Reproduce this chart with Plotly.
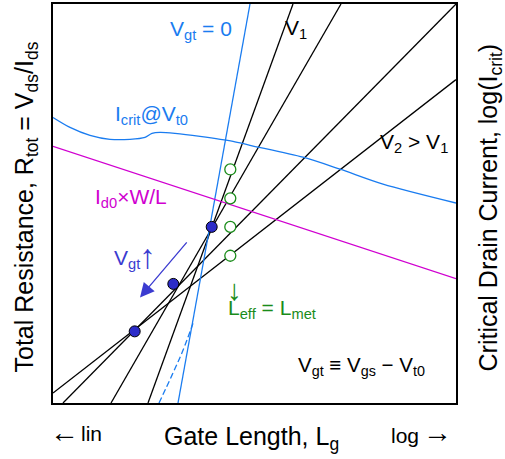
import plotly.graph_objects as go

# Schematic coordinates (arbitrary units)
# Black R_tot vs L lines for increasing V_gt (start/end points)
line1_x = [95, 240];  line1_y = [0, 401]
line2_x = [58, 288];  line2_y = [0, 401]
line3_x = [10, 403];  line3_y = [0, 401]
line4_x = [0, 403];   line4_y = [10, 325]

# V_gt = 0 line (blue) and dashed continuation
vgt0_x = [125, 197];  vgt0_y = [0, 401]
vgt0_dash_x = [106, 119, 130, 140]; vgt0_dash_y = [0, 28, 53, 80]

# I_d0 x W/L (magenta)
id0_x = [0, 403]; id0_y = [258, 125]

# I_crit @ V_t0 (blue curve)
icrit_x = [0, 17, 37, 57, 77, 92, 99, 107, 122, 147, 180, 197, 250, 287, 330, 403]
icrit_y = [287, 277, 269, 265, 265, 267, 271, 272, 271, 268, 263, 259, 247, 235, 220, 201]

# Intersection points (filled) and L_eff = L_met points (open)
dots_x = [158.7, 120.3, 81.7]; dots_y = [177, 119.7, 72]
open_x = [177.3, 177.3, 177.3, 177.3]; open_y = [234.7, 205.7, 177, 148]

BLUE = "#1a7cf0"
MAG = "#d000d0"
GREEN = "#1a8c1a"
VIOL = "#3b3bd0"
FONT = "Liberation Sans, Arial, sans-serif"

fig = go.Figure()
for xs, ys in [(line1_x, line1_y), (line2_x, line2_y), (line3_x, line3_y), (line4_x, line4_y)]:
    fig.add_trace(go.Scatter(x=xs, y=ys, mode="lines", line=dict(color="black", width=1.3)))
fig.add_trace(go.Scatter(x=vgt0_x, y=vgt0_y, mode="lines", line=dict(color=BLUE, width=1.3)))
fig.add_trace(go.Scatter(x=vgt0_dash_x, y=vgt0_dash_y, mode="lines",
                         line=dict(color=BLUE, width=1.3, dash="6px,3px", shape="spline")))
fig.add_trace(go.Scatter(x=id0_x, y=id0_y, mode="lines", line=dict(color=MAG, width=1.3)))
fig.add_trace(go.Scatter(x=icrit_x, y=icrit_y, mode="lines",
                         line=dict(color=BLUE, width=1.3, shape="spline", smoothing=0.8)))
fig.add_trace(go.Scatter(x=dots_x, y=dots_y, mode="markers",
                         marker=dict(size=11, color="#2b2bc8", line=dict(color="black", width=1))))
fig.add_trace(go.Scatter(x=open_x, y=open_y, mode="markers",
                         marker=dict(size=11, color="white", line=dict(color=GREEN, width=1.3))))

def ann(text, x, y, color="black", size=21, family=FONT, **kw):
    fig.add_annotation(x=x, y=y, xref="x", yref="y", text=text, showarrow=False,
                       font=dict(family=family, size=size, color=color),
                       xanchor="center", yanchor="middle", **kw)

def pann(text, px, py, color="black", size=21, **kw):
    # position given in picture pixels, converted to paper fractions
    fig.add_annotation(x=(px - 53) / 403, y=(403 - py) / 401, xref="paper", yref="paper",
                       text=text, showarrow=False,
                       font=dict(family=FONT, size=size, color=color),
                       xanchor="center", yanchor="middle", **kw)

ann("V<sub>gt</sub>", 73.5, 145, VIOL)
ann("↑", 94.5, 148, VIOL, size=34)
ann("↓", 181, 114, GREEN, size=29)
ann("V<sub>gt</sub> = 0", 148, 374.5, BLUE)
ann("V<sub>1</sub>", 243, 376)
ann("I<sub>crit</sub>@V<sub>t0</sub>", 98.5, 289.5, BLUE)
ann("V<sub>2</sub> > V<sub>1</sub>", 361, 261)
ann("I<sub>d0</sub>×W/L", 77.5, 206, MAG)
ann("L<sub>eff</sub> = L<sub>met</sub>", 218.5, 94, GREEN)
ann("V<sub>gt</sub> ≡ V<sub>gs</sub> − V<sub>t0</sub>", 308, 37.5, size=20.5)
pann("←", 64, 432, size=29)
pann("lin", 91.5, 434)
pann("Gate Length, L<sub>g</sub>", 251.5, 438, size=25)
pann("log", 404.5, 436)
pann("→", 437, 432, size=29)
pann("Total Resistance, R<sub>tot</sub> = V<sub>ds</sub>/I<sub>ds</sub>", 26, 206.5,
     size=25, textangle=-90)
pann("Critical Drain Current, log(I<sub>crit</sub>)", 490, 206.5,
     size=25, textangle=-90)

# V_gt increasing arrow
fig.add_annotation(x=87, y=106, ax=135, ay=163, xref="x", yref="y", axref="x", ayref="y",
                   showarrow=True, arrowhead=2, arrowsize=2.2, arrowwidth=1.3, arrowcolor=VIOL, text="")

fig.update_layout(
    width=505, height=459, showlegend=False,
    paper_bgcolor="white", plot_bgcolor="white",
    margin=dict(l=53, r=49, t=2, b=56),
)
fig.update_xaxes(range=[0, 403], showgrid=False, zeroline=False, showticklabels=False, ticks="",
                 showline=True, mirror=True, linecolor="black", linewidth=1.5)
fig.update_yaxes(range=[0, 401], showgrid=False, zeroline=False, showticklabels=False, ticks="",
                 showline=True, mirror=True, linecolor="black", linewidth=1.5)
fig.write_html("out.html", config={"displayModeBar": False},
               post_script="document.body.style.margin='0px';")
